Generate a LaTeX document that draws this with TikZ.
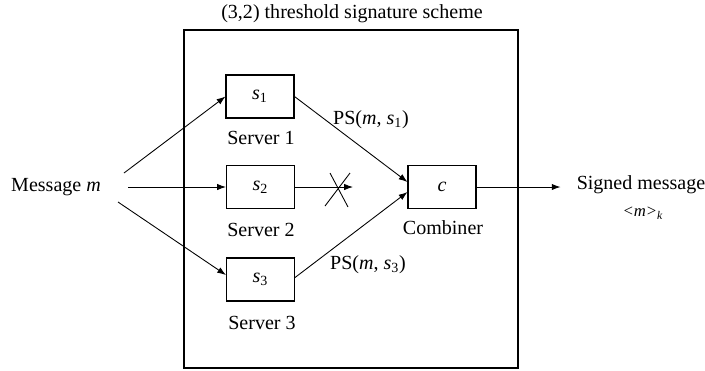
\documentclass[tikz,border=0pt]{standalone}
\usepackage{fontspec}
\setmainfont{Liberation Serif}
\usetikzlibrary{arrows.meta,positioning,calc}

\newcommand{\sub}[2]{\textit{#1}\textsubscript{#2}}

\tikzset{
  srvbox/.style={draw, line width=0.6pt, minimum width=1.36cm, minimum height=0.86cm, inner sep=0pt},
  arr/.style={-{Latex[length=5pt,width=3.6pt]}, line width=0.5pt},
}

\begin{document}
\begin{tikzpicture}[x=0.02cm,y=-0.02cm,font=\fontsize{11.4}{13}\selectfont]
\useasboundingbox (0,0) rectangle (705,370);
% the scheme frame
\draw[line width=0.8pt] (184,30) rectangle (518,368);
\node (title) at (352,14) {(3,2) threshold signature scheme};
% servers and combiner
\node[srvbox] (s1) at (260,96.5) {\sub{s}{1}};
\node[srvbox] (s2) at (260.5,187) {\sub{s}{2}};
\node[srvbox] (s3) at (260.5,279.5) {\sub{s}{3}};
\node[srvbox] (c) at (442,187) {\textit{c}};
\node (lab1) at (261,138) {Server 1};
\node (lab2) at (261,230) {Server 2};
\node (lab3) at (262,323) {Server 3};
\node (labc) at (443,228) {Combiner};
\node (ps1) at (371,120) {PS(\textit{m}, \sub{s}{1})};
\node (ps3) at (368,265) {PS(\textit{m}, \sub{s}{3})};
% input and output
\node (msg) at (56,187) {Message \textit{m}};
\node (out) at (641,185) {Signed message};
\node (outk) at (643,213) {\fontsize{9.5}{11}\selectfont\textit{<m>}\textsubscript{\textit{k}}};
\coordinate (m1) at (124,173);
\coordinate (m2) at (128,187);
\coordinate (m3) at (118,202);
\coordinate (x2) at (353,187);
\draw[arr] (m1) -- (s1.west);
\draw[arr] (m2) -- (s2.west);
\draw[arr] (m3) -- ($(s3.west)+(0,-4.5)$);
\draw[arr] (s1.east) -- ($(c.west)+(0,-5)$);
\draw[arr] ($(s3.east)+(0,-2)$) -- ($(c.west)+(0,5)$);
\draw[arr] (s2.east) -- (x2);
% the lost share
\draw[line width=0.5pt] (325,206) -- (350,173) (330,173) -- (348,207);
\draw[arr,shorten >=0.2cm] (c.east) -- (c.east -| out.west);
\end{tikzpicture}
\end{document}
